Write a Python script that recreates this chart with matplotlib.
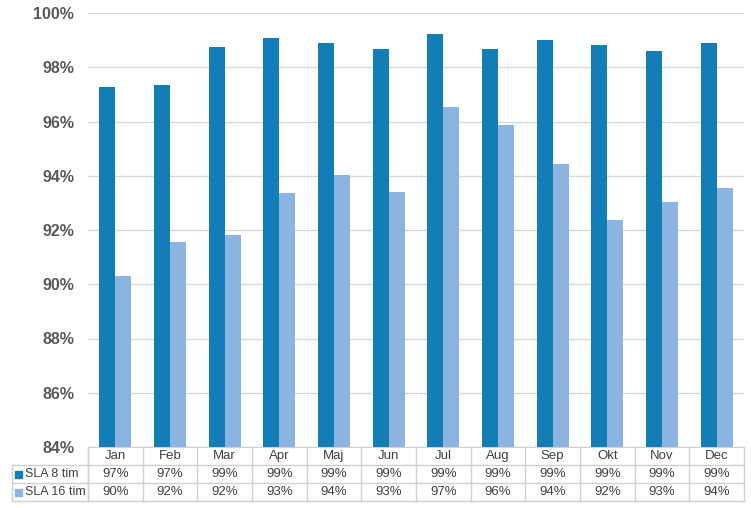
import numpy as np
import matplotlib
matplotlib.use("Agg")
import matplotlib.pyplot as plt
from matplotlib.transforms import blended_transform_factory

plt.rcParams['font.family'] = ['Liberation Sans', 'DejaVu Sans']

# data
months = ['Jan', 'Feb', 'Mar', 'Apr', 'Maj', 'Jun', 'Jul', 'Aug', 'Sep', 'Okt', 'Nov', 'Dec']
sla8 = [97.28, 97.36, 98.76, 99.09, 98.91, 98.69, 99.24, 98.69, 99.02, 98.83, 98.61, 98.91]
sla16 = [90.31, 91.56, 91.82, 93.37, 94.04, 93.41, 96.55, 95.88, 94.44, 92.38, 93.04, 93.56]
series_names = ['SLA 8 tim', 'SLA 16 tim']
colors = ['#137db8', '#8cb4e0']

W, H = 751, 508
fig = plt.figure(figsize=(W / 100, H / 100), dpi=100)
ax_left, ax_right, ax_top, ax_bot = 88, 744, 13, 447
ax = fig.add_axes([ax_left / W, (H - ax_bot) / H, (ax_right - ax_left) / W, (ax_bot - ax_top) / H])

x = np.arange(len(months))
bw = 0.29
ax.bar(x - bw / 2, sla8, bw, color=colors[0], zorder=3)
ax.bar(x + bw / 2, sla16, bw, color=colors[1], zorder=3)

ax.set_ylim(84, 100)
ax.set_xlim(-0.5, len(months) - 0.5)
ax.set_yticks(np.arange(84, 101, 2))
ax.set_yticklabels([f'{v}%' for v in range(84, 101, 2)], fontsize=11.5,
                   fontweight='bold', color='#595959')
ax.tick_params(axis='y', length=0, pad=10)
ax.set_xticks([])
ax.grid(axis='y', color='#d9d9d9', linewidth=1, zorder=0)
for s in ['top', 'right', 'left']:
    ax.spines[s].set_visible(False)
ax.spines['bottom'].set_color('#d0d0d0')

# data table below the axes
trans = blended_transform_factory(ax.transData, fig.transFigure)
ftrans = fig.transFigure
def fy(p):
    return (H - p) / H

rows_y = [447, 465, 483, 501]
line_c = '#d0d0d0'
txt_c = '#404040'
for yy in rows_y[1:]:
    fig.add_artist(plt.Line2D([12 / W, ax_right / W], [fy(yy), fy(yy)], color=line_c, lw=1, transform=ftrans))
fig.add_artist(plt.Line2D([12 / W, 12 / W], [fy(465), fy(501)], color=line_c, lw=1, transform=ftrans))
fig.add_artist(plt.Line2D([ax_left / W, ax_left / W], [fy(447), fy(501)], color=line_c, lw=1, transform=ftrans))
for k in range(len(months) + 1):
    ax.plot([k - 0.5, k - 0.5], [fy(447), fy(501)], color=line_c, lw=1, transform=trans, clip_on=False)

for k, m in enumerate(months):
    ax.text(k, fy(456), m, ha='center', va='center', fontsize=9.5, color=txt_c, transform=trans)
    ax.text(k, fy(474), f'{round(sla8[k])}%', ha='center', va='center', fontsize=9.5, color=txt_c, transform=trans)
    ax.text(k, fy(492), f'{round(sla16[k])}%', ha='center', va='center', fontsize=9.5, color=txt_c, transform=trans)

for name, c, yy in zip(series_names, colors, [474, 492]):
    fig.patches.append(plt.Rectangle((15 / W, fy(yy + 3.5)), 7 / W, 7 / H, color=c, transform=ftrans))
    fig.text(25 / W, fy(yy), name, ha='left', va='center', fontsize=9, color=txt_c)

fig.savefig('out.png', dpi=100)
